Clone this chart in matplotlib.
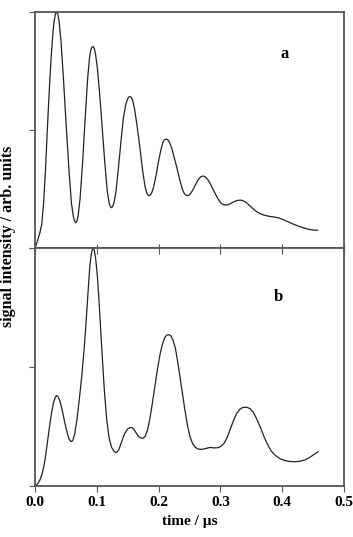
import matplotlib
matplotlib.use('Agg')
import matplotlib.pyplot as plt

# panel a: time (us) and normalised signal
t_a = [0.000, 0.004, 0.008, 0.011, 0.014, 0.017, 0.020, 0.023, 0.026, 0.029,
       0.031, 0.033, 0.035, 0.037, 0.039, 0.042, 0.046, 0.0505, 0.055, 0.059,
       0.062, 0.064, 0.066, 0.068, 0.070, 0.073, 0.077, 0.081, 0.085, 0.088,
       0.090, 0.092, 0.094, 0.096, 0.098, 0.101, 0.105, 0.109, 0.113, 0.117,
       0.120, 0.122, 0.124, 0.126, 0.128, 0.131, 0.135, 0.139, 0.143, 0.147,
       0.150, 0.152, 0.154, 0.156, 0.158, 0.161, 0.165, 0.1695, 0.174, 0.178,
       0.181, 0.183, 0.185, 0.187, 0.189, 0.192, 0.196, 0.200, 0.204, 0.207,
       0.209, 0.211, 0.213, 0.215, 0.217, 0.221, 0.225, 0.2295, 0.234, 0.238,
       0.241, 0.244, 0.246, 0.248, 0.251, 0.255, 0.259, 0.263, 0.266, 0.269,
       0.272, 0.275, 0.279, 0.284, 0.290, 0.296, 0.301, 0.305, 0.309, 0.313,
       0.318, 0.323, 0.328, 0.332, 0.336, 0.341, 0.346, 0.352, 0.358, 0.364,
       0.370, 0.376, 0.382, 0.388, 0.394, 0.400, 0.406, 0.413, 0.420, 0.427,
       0.434, 0.440, 0.446, 0.451, 0.457]
sig_a = [0.00, 0.03, 0.065, 0.10, 0.19, 0.33, 0.50, 0.66, 0.80, 0.91,
         0.96, 0.99, 1.00, 0.99, 0.96, 0.88, 0.72, 0.52, 0.33, 0.19,
         0.135, 0.115, 0.107, 0.115, 0.14, 0.21, 0.36, 0.54, 0.71, 0.80,
         0.835, 0.85, 0.853, 0.845, 0.82, 0.76, 0.64, 0.50, 0.36, 0.24,
         0.19, 0.175, 0.171, 0.178, 0.195, 0.24, 0.34, 0.45, 0.55, 0.61,
         0.632, 0.64, 0.641, 0.638, 0.625, 0.59, 0.52, 0.43, 0.33, 0.26,
         0.232, 0.224, 0.222, 0.226, 0.235, 0.26, 0.31, 0.37, 0.42, 0.448,
         0.457, 0.461, 0.461, 0.458, 0.45, 0.425, 0.385, 0.34, 0.29, 0.252,
         0.233, 0.224, 0.222, 0.223, 0.228, 0.245, 0.265, 0.285, 0.297, 0.303,
         0.305, 0.302, 0.292, 0.27, 0.238, 0.208, 0.19, 0.184, 0.182, 0.184,
         0.191, 0.198, 0.202, 0.203, 0.201, 0.194, 0.183, 0.168, 0.155, 0.146,
         0.140, 0.136, 0.133, 0.131, 0.128, 0.122, 0.115, 0.107, 0.099, 0.092,
         0.086, 0.081, 0.078, 0.076, 0.076]

# panel b
t_b = [0.000, 0.004, 0.008, 0.0115, 0.015, 0.019, 0.023, 0.027, 0.030, 0.033,
       0.035, 0.037, 0.040, 0.044, 0.048, 0.052, 0.055, 0.058, 0.061, 0.064,
       0.068, 0.072, 0.076, 0.080, 0.084, 0.087, 0.089, 0.091, 0.0935, 0.096,
       0.098, 0.101, 0.104, 0.108, 0.112, 0.116, 0.120, 0.124, 0.128, 0.131,
       0.133, 0.136, 0.140, 0.145, 0.150, 0.154, 0.157, 0.160, 0.164, 0.168,
       0.172, 0.175, 0.178, 0.182, 0.186, 0.190, 0.194, 0.198, 0.202, 0.206,
       0.210, 0.213, 0.217, 0.220, 0.223, 0.227, 0.231, 0.235, 0.239, 0.243,
       0.247, 0.251, 0.255, 0.259, 0.264, 0.270, 0.277, 0.283, 0.290, 0.296,
       0.301, 0.306, 0.311, 0.316, 0.321, 0.326, 0.331, 0.336, 0.3425, 0.348,
       0.353, 0.358, 0.364, 0.370, 0.376, 0.382, 0.389, 0.396, 0.404, 0.412,
       0.421, 0.429, 0.437, 0.444, 0.451, 0.458]
sig_b = [0.000, 0.008, 0.025, 0.050, 0.09, 0.16, 0.24, 0.31, 0.35, 0.373,
         0.38, 0.377, 0.36, 0.32, 0.27, 0.225, 0.198, 0.187, 0.19, 0.215,
         0.28, 0.37, 0.47, 0.59, 0.74, 0.86, 0.93, 0.975, 1.00, 0.99,
         0.96, 0.88, 0.76, 0.58, 0.41, 0.28, 0.2, 0.162, 0.145, 0.141,
         0.143, 0.155, 0.185, 0.22, 0.24, 0.246, 0.245, 0.238, 0.222, 0.207,
         0.201, 0.201, 0.208, 0.235, 0.285, 0.35, 0.42, 0.49, 0.55, 0.595,
         0.625, 0.634, 0.636, 0.63, 0.615, 0.58, 0.52, 0.45, 0.38, 0.31,
         0.25, 0.205, 0.178, 0.163, 0.155, 0.154, 0.158, 0.162, 0.16, 0.161,
         0.167, 0.18, 0.205, 0.24, 0.275, 0.304, 0.322, 0.33, 0.331, 0.325,
         0.31, 0.285, 0.25, 0.21, 0.175, 0.147, 0.128, 0.115, 0.107, 0.103,
         0.102, 0.104, 0.110, 0.120, 0.132, 0.144]

xticks = [0.0, 0.1, 0.2, 0.3, 0.4, 0.5]
xticklabels = ['0.0', '0.1', '0.2', '0.3', '0.4', '0.5']

plt.rcParams['font.family'] = ['Liberation Serif', 'DejaVu Serif']
plt.rcParams['font.weight'] = 'bold'

fig = plt.figure(figsize=(3.53, 5.37), dpi=100)
ax1 = fig.add_axes([0.099, 0.538, 0.876, 0.44])
ax2 = fig.add_axes([0.099, 0.095, 0.876, 0.443])

spine_col = '#555555'
for ax, t, s, lab, pos in [(ax1, t_a, sig_a, 'a', (0.806, 0.82)),
                           (ax2, t_b, sig_b, 'b', (0.786, 0.795))]:
    ax.plot(t, s, color='#222222', lw=0.9)
    ax.set_xlim(0, 0.5)
    ax.set_ylim(0, 1)
    ax.set_yticks([0, 0.5, 1])
    ax.set_yticklabels([])
    ax.set_xticks(xticks)
    ax.tick_params(axis='y', direction='out', length=4, color=spine_col)
    for sp in ax.spines.values():
        sp.set_color(spine_col)
        sp.set_linewidth(1.3)
    ax.text(pos[0], pos[1], lab, transform=ax.transAxes, fontsize=12,
            fontweight='bold', ha='center', va='center')

ax1.tick_params(axis='x', direction='in', length=3, color=spine_col,
                labelbottom=False)
ax2.tick_params(axis='x', which='both', direction='out', length=4,
                color=spine_col, top=True, labelsize=11)
ax2.set_xticklabels(xticklabels, fontweight='bold')
# ticks on top of lower panel point inward
for tk in ax2.xaxis.get_major_ticks():
    tk.tick2line.set_marker(matplotlib.lines.TICKDOWN)

ax2.set_xlabel('time / \u00b5s', fontsize=11, fontweight='bold', labelpad=4)
fig.text(0.022, 0.559, 'signal intensity / arb. units', rotation=90,
         fontsize=11.5, fontweight='bold', ha='center', va='center')

fig.savefig('out.png', dpi=100)
